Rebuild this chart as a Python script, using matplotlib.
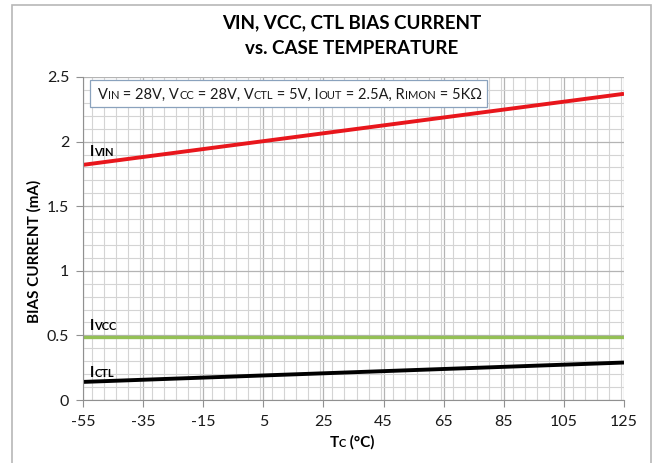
import matplotlib
matplotlib.use("Agg")
import matplotlib.pyplot as plt
from matplotlib.ticker import MultipleLocator
from matplotlib.transforms import offset_copy

temp_c = [-55, 125]
i_vin = [1.82, 2.37]
i_vcc = [0.49, 0.49]
i_ctl = [0.14, 0.29]
x_ticks = [-55, -35, -15, 5, 25, 45, 65, 85, 105, 125]
y_ticks = [0, 0.5, 1, 1.5, 2, 2.5]
y_tick_labels = ["0", "0.5", "1", "1.5", "2", "2.5"]

plt.rcParams["font.family"] = ["Lato", "DejaVu Sans"]
plt.rcParams["axes.unicode_minus"] = False

fig = plt.figure(figsize=(6.55, 4.63), dpi=100)
ax = fig.add_axes([83 / 655, 1 - 400 / 463, (624 - 83) / 655, (400 - 77) / 463])

ax.plot(temp_c, i_vin, color="#e8161c", lw=2.8, solid_capstyle="butt")
ax.plot(temp_c, i_vcc, color="#94c055", lw=2.4, solid_capstyle="butt")
ax.plot(temp_c, i_ctl, color="black", lw=2.8, solid_capstyle="butt")

ax.set_xlim(-55, 125)
ax.set_ylim(0, 2.5)
ax.set_xticks(x_ticks)
ax.set_yticks(y_ticks)
ax.set_yticklabels(y_tick_labels)
ax.xaxis.set_minor_locator(MultipleLocator(4))
ax.yaxis.set_minor_locator(MultipleLocator(0.1))
ax.grid(which="major", color="#b4b4b4", lw=0.9)
ax.grid(which="minor", color="#d4d4d4", lw=0.8)
ax.set_axisbelow(True)
for side in ("top", "right"):
    ax.spines[side].set_visible(False)
for side in ("left", "bottom"):
    ax.spines[side].set_color("#909090")
ax.tick_params(which="major", length=5, color="#909090", labelsize=11.5,
               labelcolor="#1a1a1a")
ax.tick_params(axis="x", pad=6)
ax.tick_params(axis="y", pad=5)
ax.tick_params(which="minor", length=0)

ax.set_ylabel("BIAS CURRENT (mA)", fontsize=11, fontweight="bold")
ax.yaxis.set_label_coords(-0.076, 0.46)

fig.canvas.draw()
renderer = fig.canvas.get_renderer()


def rich_text(x, y, pieces, transform, **kw):
    """Draw (text, size) pieces one after another on a common baseline."""
    trans = transform
    for text, size in pieces:
        t = fig.text(x, y, text, transform=trans, fontsize=size,
                     va="baseline", ha="left", **kw)
        w = t.get_window_extent(renderer=renderer).width
        trans = offset_copy(trans, fig=fig, x=w, units="dots")
    return trans


def rich_width(pieces, **kw):
    total = 0
    for text, size in pieces:
        t = fig.text(0, 0, text, fontsize=size, **kw)
        total += t.get_window_extent(renderer=renderer).width
        t.remove()
    return total


# title
fig.text(352 / 655, 1 - 23 / 463, "VIN, VCC, CTL BIAS CURRENT", ha="center",
         va="center", fontsize=13.5, fontweight="bold")
fig.text(352 / 655, 1 - 48 / 463, "vs. CASE TEMPERATURE", ha="center",
         va="center", fontsize=13.5, fontweight="bold")

# x label
xl = [("T", 11), ("C", 8), (" (°C)", 11)]
w = rich_width(xl, fontweight="bold")
rich_text((352 - w / 2) / 655, 1 - 447 / 463, xl, fig.transFigure,
          fontweight="bold")

# conditions box
box = plt.Rectangle((90 / 655, 1 - 107 / 463), (487 - 90) / 655, 27 / 463,
                    transform=fig.transFigure, facecolor="white",
                    edgecolor="#8aa2bd", lw=0.9)
fig.patches.append(box)
cond = [("V", 10.5), ("IN", 8), (" = 28V, V", 10.5), ("CC", 8),
        (" = 28V, V", 10.5), ("CTL", 8), (" = 5V, I", 10.5), ("OUT", 8),
        (" = 2.5A, R", 10.5), ("IMON", 8), (" = 5KΩ", 10.5)]
rich_text(98 / 655, 1 - 99 / 463, cond, fig.transFigure, color="#1a1a1a")

# series labels
for y_px, sub in ((156, "VIN"), (330, "VCC"), (377, "CTL")):
    rich_text(90 / 655, 1 - y_px / 463, [("I", 10.5), (sub, 8)],
              fig.transFigure, fontweight="bold")

# outer chart frame
frame = plt.Rectangle((12 / 655, -0.05), (651 - 12) / 655, 1 - 5 / 463 + 0.05,
                      transform=fig.transFigure, facecolor="none",
                      edgecolor="#b8b8b8", lw=1.2)
fig.patches.append(frame)

fig.savefig("out.png", dpi=100)
